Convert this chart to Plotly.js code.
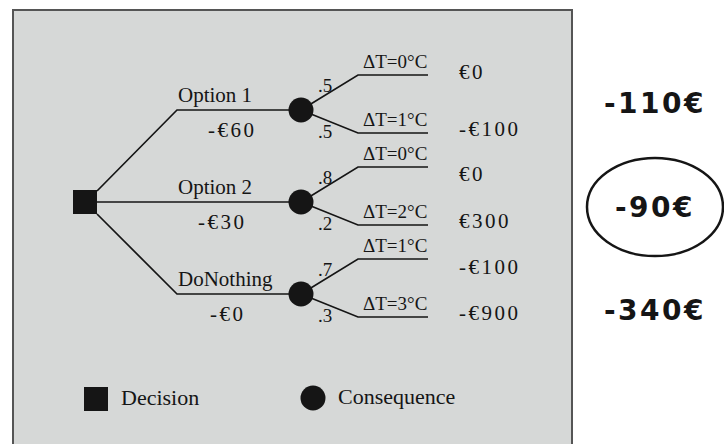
<!DOCTYPE html>
<html>
<head>
<meta charset="utf-8">
<script src="https://cdn.plot.ly/plotly-3.0.1.min.js"></script>
<style>
  html, body { margin: 0; padding: 0; background: #fff; }
  #tree { width: 724px; height: 444px; }
</style>
</head>
<body>
<div id="tree"></div>
<script>
// --- data ---
const options = ['Option 1', 'Option 2', 'DoNothing'];
const optionCosts = ['-€60', '-€30', '-€0'];
const probUp = ['.5', '.8', '.7'];
const probDown = ['.5', '.2', '.3'];
const outcomeUp = ['ΔT=0°C', 'ΔT=0°C', 'ΔT=1°C'];
const outcomeDown = ['ΔT=1°C', 'ΔT=2°C', 'ΔT=3°C'];
const payoffUp = ['€0', '€0', '-€100'];
const payoffDown = ['-€100', '€300', '-€900'];
const expected = ['-110€', '-90€', '-340€'];
const bestOption = 1;
const legendLabels = ['Decision', 'Consequence'];

// --- layout (pixel space, y goes down) ---
const root = { x: 85, y: 202 };
const rowY = [110, 202, 294];
const rootExit = [-11, 0, 12];
const elbowX = 177, chanceX = 301;
const subElbowX = 358, subEndX = 428;
const upOff = -35, downOff = 23;
const costX = [232, 222, 228];
const payUpY = [72, 174, 267];
const payDownY = [129, 221, 313];
const expY = [103, 207, 310];

const serif = 'Liberation Serif, Times New Roman, serif';
const ink = '#151515';
const spaced = (s, px) => `<span style="letter-spacing:${px}px">${s}</span>`;

// tree lines
const lx = [], ly = [];
options.forEach((o, i) => {
	const y = rowY[i];
	lx.push(root.x + 12, elbowX, chanceX, null);
	ly.push(root.y + rootExit[i], y, y, null);
	lx.push(chanceX, subElbowX, subEndX, null);
	ly.push(y, y + upOff, y + upOff, null);
	lx.push(chanceX, subElbowX, subEndX, null);
	ly.push(y, y + downOff, y + downOff, null);
});

const traces = [
	{ x: lx, y: ly, mode: 'lines', type: 'scatter', line: { color: ink, width: 1.7 }, hoverinfo: 'skip' },
	{ x: [root.x, 96], y: [root.y, 399], mode: 'markers', type: 'scatter',
	  marker: { symbol: 'square', size: 24, color: ink }, hoverinfo: 'skip' },
	{ x: options.map(() => chanceX).concat([313]), y: rowY.concat([398]), mode: 'markers', type: 'scatter',
	  marker: { symbol: 'circle', size: 25, color: ink }, hoverinfo: 'skip' }
];

const ann = [];
const txt = (x, y, text, size, anchor, extra) => Object.assign({
	x, y, text, xref: 'x', yref: 'y', showarrow: false, xanchor: anchor || 'left', yanchor: 'middle',
	font: { family: serif, size: size, color: ink }
}, extra || {});

options.forEach((o, i) => {
	const y = rowY[i];
	ann.push(txt(elbowX - 1, y - 15, o, 21));
	ann.push(txt(costX[i], y + 20, spaced(optionCosts[i], 2.5), 21, 'center'));
	ann.push(txt(325, y - 25, probUp[i], 19, 'center'));
	ann.push(txt(325, y + 21, probDown[i], 19, 'center'));
	ann.push(txt(395, y + upOff - 14, outcomeUp[i], 19, 'center'));
	ann.push(txt(395, y + downOff - 14, outcomeDown[i], 19, 'center'));
	ann.push(txt(457, payUpY[i], spaced(payoffUp[i], 2.5), 21));
	ann.push(txt(457, payDownY[i], spaced(payoffDown[i], 2.5), 21));
	ann.push(txt(655, expY[i], spaced(expected[i], 2.5), 28, 'center',
		{ font: { family: 'DejaVu Sans, Verdana, sans-serif', size: 28, color: ink, weight: 'bold' } }));
});
ann.push(txt(119, 397, legendLabels[0], 22));
ann.push(txt(336, 396, legendLabels[1], 22));

const shapes = [
	{ type: 'rect', xref: 'x', yref: 'y', x0: 13, y0: 10, x1: 572, y1: 470,
	  line: { color: '#555', width: 2 }, fillcolor: '#d6d8d7', layer: 'below' },
	{ type: 'circle', xref: 'x', yref: 'y', x0: 587, y0: 158, x1: 723, y1: 256,
	  line: { color: ink, width: 2.5 } }
];

Plotly.newPlot('tree', traces, {
	width: 724, height: 444,
	margin: { l: 0, r: 0, t: 0, b: 0 },
	showlegend: false,
	paper_bgcolor: '#fff', plot_bgcolor: '#fff',
	xaxis: { range: [0, 724], visible: false, fixedrange: true },
	yaxis: { range: [444, 0], visible: false, fixedrange: true },
	annotations: ann,
	shapes: shapes
}, { displayModeBar: false, staticPlot: true });
</script>
</body>
</html>
